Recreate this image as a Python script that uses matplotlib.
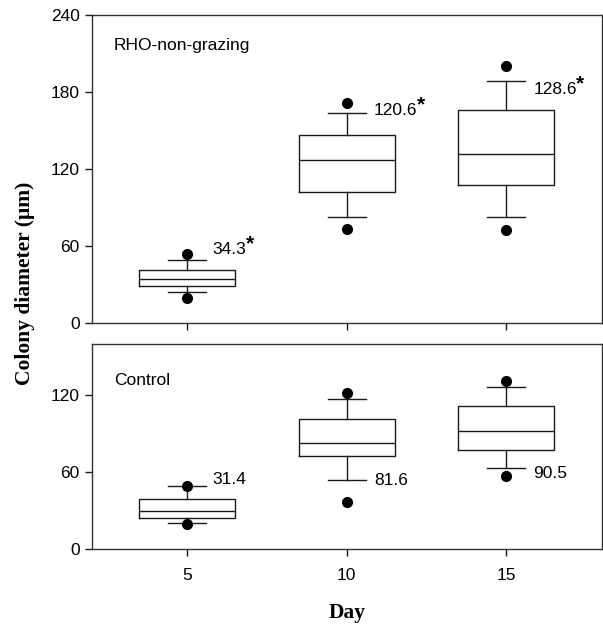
import matplotlib
matplotlib.use('Agg')
import matplotlib.pyplot as plt

plt.rcParams['font.family'] = ['Liberation Sans', 'DejaVu Sans']

days = [5, 10, 15]

# RHO-non-grazing (top panel)
rho_q1 = [29.0, 102.3, 107.2]
rho_med = [34.0, 127.1, 132.1]
rho_q3 = [41.3, 146.7, 166.3]
rho_lo = [24.1, 82.9, 82.7]
rho_hi = [48.6, 163.9, 188.5]
rho_out = [[19.6, 53.9], [73.3, 171.5], [72.7, 200.8]]
rho_mean = ['34.3', '120.6', '128.6']
rho_lab_y = [56.8, 165.5, 182.5]

# Control (bottom panel)
ctl_q1 = [24.4, 72.7, 77.4]
ctl_med = [29.4, 82.6, 92.2]
ctl_q3 = [39.0, 101.8, 111.7]
ctl_lo = [20.0, 53.5, 62.9]
ctl_hi = [48.9, 116.7, 126.5]
ctl_out = [[19.7, 49.3], [36.4, 122.1], [56.9, 131.5]]
ctl_mean = ['31.4', '81.6', '90.5']
ctl_lab_y = [54.6, 53.8, 59.0]


def make_stats(q1, med, q3, lo, hi, out):
    stats = []
    for i in range(len(q1)):
        stats.append(dict(med=med[i], q1=q1[i], q3=q3[i],
                          whislo=lo[i], whishi=hi[i], fliers=out[i]))
    return stats


def draw_panel(ax, stats, ymax, yticks, name, name_y, means, lab_y, star):
    lc = '#1a1a1a'
    ax.bxp(stats, positions=days, widths=3, showfliers=True,
           boxprops=dict(color=lc, lw=1),
           medianprops=dict(color=lc, lw=1),
           whiskerprops=dict(color=lc, lw=1),
           capprops=dict(color=lc, lw=1),
           capwidths=1.2,
           flierprops=dict(marker='o', markerfacecolor='black',
                           markeredgecolor='black', markersize=7))
    ax.set_xlim(2, 18)
    ax.set_ylim(0, ymax)
    ax.set_yticks(yticks)
    ax.set_xticks(days)
    ax.tick_params(direction='out', length=5, width=1, labelsize=12.5, color=lc)
    for s in ax.spines.values():
        s.set_linewidth(1)
        s.set_color('#333333')
    ax.text(2.7, name_y, name, fontsize=12.5, va='center', ha='left')
    for d, m, y in zip(days, means, lab_y):
        dx = 0.8 if d == 5 else 0.85
        t = ax.text(d + dx, y, m, fontsize=12.5, va='center', ha='left')
        if star:
            # asterisk sits just above the top right of the number
            ax.annotate('*', xy=(1.0, 0.0), xycoords=t,
                        xytext=(-0.5, 5.5), textcoords='offset points',
                        fontsize=15, fontweight='bold',
                        ha='left', va='baseline')


fig = plt.figure(figsize=(6.03, 6.24), dpi=100)
ax1 = fig.add_axes([0.152, 0.4829, 0.846, 0.4923])
ax2 = fig.add_axes([0.152, 0.1202, 0.846, 0.3285])

draw_panel(ax1, make_stats(rho_q1, rho_med, rho_q3, rho_lo, rho_hi, rho_out),
           240, [0, 60, 120, 180, 240], 'RHO-non-grazing', 216.5,
           rho_mean, rho_lab_y, True)
ax1.set_xticklabels([])

draw_panel(ax2, make_stats(ctl_q1, ctl_med, ctl_q3, ctl_lo, ctl_hi, ctl_out),
           160, [0, 60, 120], 'Control', 131.7,
           ctl_mean, ctl_lab_y, False)
ax2.tick_params(axis='x', pad=9)

fig.text(0.042, 0.546, 'Colony diameter (\u03bcm)', rotation=90,
         ha='center', va='center', fontsize=15.5, fontweight='bold',
         family=['Liberation Serif', 'DejaVu Serif'])
fig.text(0.575, 0.017, 'Day', ha='center', va='center', fontsize=15.5,
         fontweight='bold', family=['Liberation Serif', 'DejaVu Serif'])

fig.savefig('out.png', dpi=100)
